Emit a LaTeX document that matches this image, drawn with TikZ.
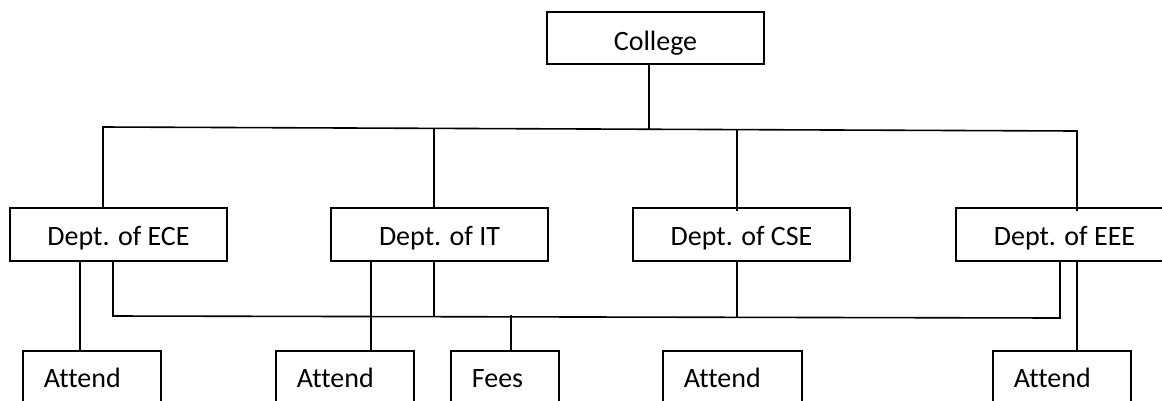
\documentclass[tikz,border=0pt]{standalone}
\usepackage{fontspec}
\setmainfont[RawFeature={-liga;-clig}]{Carlito}
\usetikzlibrary{calc}
\tikzset{
  unitbox/.style={draw, line width=1.7pt, minimum width=217pt, minimum height=53pt,
    inner sep=0pt, font=\fontsize{28}{33}\selectfont, text height=21pt, text depth=0pt},
  leafbox/.style={draw, line width=1.7pt, anchor=north west, inner xsep=21pt,
    inner ysep=17pt, align=left, font=\fontsize{28}{33}\selectfont,
    text height=20pt, text depth=40pt},
  link/.style={line width=1.6pt}
}
\begin{document}
\begin{tikzpicture}[x=1pt, y=-1pt]
\useasboundingbox (0,0) rectangle (1162,400);
\clip (0,0) rectangle (1162,400);

% top level
\node[unitbox, minimum height=52pt, text height=24pt] (college) at (655.5,38) {College};

% departments
\node[unitbox] (ece) at (118.5,234.5) {Dept. of ECE};
\node[unitbox] (it)  at (439.5,234.5) {Dept. of IT};
\node[unitbox] (cse) at (741.5,234.5) {Dept. of CSE};
\node[unitbox] (eee) at (1064.5,234.5) {Dept. of EEE};

% records
\node[leafbox, text width=96pt] (att1) at (22,350) {Attend};
\node[leafbox, text width=96pt] (att2) at (275,350) {Attend};
\node[leafbox, text width=66pt] (fees) at (450,350) {Fees};
\node[leafbox, text width=97pt] (att3) at (662,350) {Attend};
\node[leafbox, text width=96pt] (att5) at (992,350) {Attend};

% upper bus
\coordinate (busL) at (103,127);
\coordinate (busR) at (1077,131);
\coordinate (busC) at (649,129.2);
\coordinate (busIT) at (434,128.4);
\coordinate (busCSE) at (737,129.6);
\draw[link] (college.south -| busC) -- (busC);
\draw[link] (ece.north -| busL) -- (busL) -- (busR) -- ($(eee.north -| busR)+(0,4)$);
\draw[link] (busIT) -- (it.north -| busIT);
\draw[link] (busCSE) -- ($(cse.north -| busCSE)+(0,4)$);

% lower bus
\coordinate (lowL) at (113,316);
\coordinate (lowR) at (1060,318);
\coordinate (lowIT) at (434,316.6);
\coordinate (lowCSE) at (737,317.3);
\coordinate (lowFees) at (511,315);
\draw[link] (ece.south -| lowL) -- (lowL) -- (lowR) -- (eee.south -| lowR);
\draw[link] (it.south -| lowIT) -- (lowIT);
\draw[link] (cse.south -| lowCSE) -- (lowCSE);
\draw[link] (lowFees) -- (fees.north -| lowFees);

% direct links to records
\coordinate (x1) at (80,0);
\coordinate (x2) at (371,0);
\coordinate (x5) at (1077,0);
\draw[link] (ece.south -| x1) -- (att1.north -| x1);
\draw[link] (it.south -| x2) -- (att2.north -| x2);
\draw[link] (eee.south -| x5) -- (att5.north -| x5);
\end{tikzpicture}
\end{document}
